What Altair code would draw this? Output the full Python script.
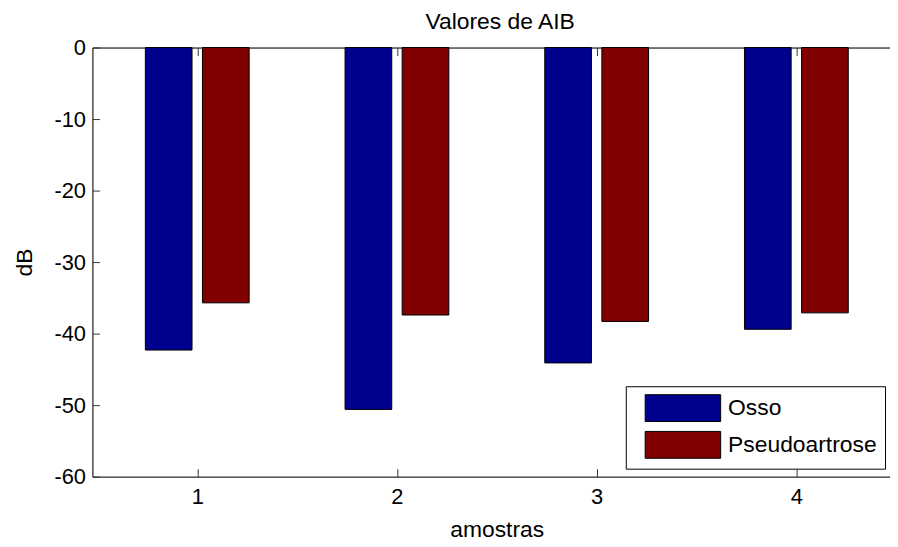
import altair as alt
import pandas as pd

# ---- data ----
samples = [1, 2, 3, 4]
osso = [-42.3, -50.6, -44.1, -39.4]
pseudo = [-35.7, -37.4, -38.3, -37.1]
series = ["Osso", "Pseudoartrose"]
colors = ["#00008F", "#800000"]
x_ticks = [1, 2, 3, 4]
y_ticks = [0, -10, -20, -30, -40, -50, -60]

rows = []
for s, o, p in zip(samples, osso, pseudo):
    rows.append({"amostra": s, "serie": series[0], "dB": o})
    rows.append({"amostra": s, "serie": series[1], "dB": p})
df = pd.DataFrame(rows)

FONT = "Liberation Sans"
FS = 22   # tick labels
FT = 23   # titles and legend
W, H = 803, 432

xscale = alt.Scale(domain=[0.5, 4.444], nice=False, zero=False)
yscale = alt.Scale(domain=[-60, 0], nice=False, zero=False)

base = alt.Chart(df).transform_calculate(
    xpos="datum.amostra + (datum.serie == 'Osso' ? -0.143 : 0.143)"
)

bars = base.mark_bar(size=47, stroke="black", strokeWidth=1).encode(
    x=alt.X("xpos:Q", scale=xscale,
            axis=alt.Axis(orient="bottom", values=x_ticks, labelExpr="toString(datum.value)",
                          title="amostras",
                          ticks=False, tickSize=0, labelPadding=10, grid=False,
                          domainColor="black", domainWidth=1,
                          labelFont=FONT, labelFontSize=FS, labelColor="black",
                          titleFont=FONT, titleFontSize=FT, titleFontWeight="normal",
                          titleColor="black", titleX=407, titleY=60,
                          titleAlign="center", titleBaseline="alphabetic")),
    y=alt.Y("dB:Q", scale=yscale,
            axis=alt.Axis(orient="left", values=y_ticks, labelExpr="toString(datum.value)",
                          title="dB",
                          ticks=False, tickSize=0, labelPadding=7, grid=False,
                          domainColor="black", domainWidth=1,
                          labelFont=FONT, labelFontSize=FS, labelColor="black",
                          titleFont=FONT, titleFontSize=FT, titleFontWeight="normal",
                          titleColor="black", titleX=-61, titleY=216,
                          titleAlign="center", titleBaseline="alphabetic")),
    color=alt.Color("serie:N", scale=alt.Scale(domain=series, range=colors),
                    legend=alt.Legend(title=None, orient="none", legendX=537, legendY=341,
                                      direction="vertical",
                                      symbolType="M-1,-1L4.63,-1L4.63,1L-1,1Z",
                                      symbolSize=729, symbolStrokeColor="black",
                                      symbolStrokeWidth=1, symbolOpacity=1,
                                      symbolOffset=11,
                                      labelFont=FONT, labelFontSize=FT, labelColor="black",
                                      labelOffset=56, rowPadding=5, padding=8,
                                      fillColor="white", strokeColor="black",
                                      cornerRadius=0)),
)

# inward ticks on bottom and left
ticks_bl = base.mark_point(opacity=0).encode(
    x=alt.X("xpos:Q", scale=xscale,
            axis=alt.Axis(orient="bottom", values=x_ticks, offset=-8, tickSize=8,
                          tickColor="#333333", labels=False, domain=False, title=None, grid=False)),
    y=alt.Y("dB:Q", scale=yscale,
            axis=alt.Axis(orient="left", values=y_ticks, offset=-7, tickSize=7,
                          tickColor="#333333", labels=False, domain=False, title=None, grid=False)),
)

# top border
top_line = base.mark_point(opacity=0).encode(
    x=alt.X("xpos:Q", scale=xscale,
            axis=alt.Axis(orient="top", values=x_ticks, ticks=False, labels=False,
                          domain=True, domainColor="black", domainWidth=1,
                          title=None, grid=False)),
    y=alt.Y("dB:Q", scale=yscale, axis=None),
)

# inward ticks on top
ticks_top = base.mark_point(opacity=0).encode(
    x=alt.X("xpos:Q", scale=xscale,
            axis=alt.Axis(orient="top", values=x_ticks, offset=-8, tickSize=8,
                          tickColor="#333333", labels=False, domain=False, title=None, grid=False)),
    y=alt.Y("dB:Q", scale=yscale, axis=None),
)

chart = alt.layer(bars, ticks_bl, top_line, ticks_top).resolve_axis(
    x="independent", y="independent"
).properties(
    width=W, height=H,
    title=alt.Title("Valores de AIB", font=FONT, fontSize=FT, fontWeight="normal",
                    color="black", anchor="middle", dx=9, offset=3),
    autosize=alt.AutoSizeParams(type="none"),
    padding={"left": 85, "top": 38, "right": 0, "bottom": 64},
).configure_view(stroke=None).configure(background="white")

chart.save("out.html", embed_options={"renderer": "svg", "actions": False})
